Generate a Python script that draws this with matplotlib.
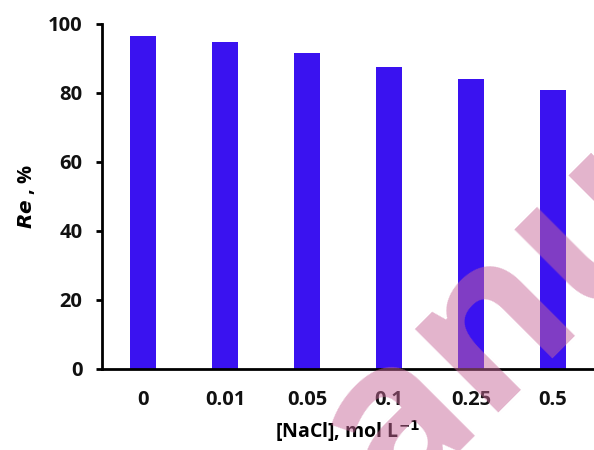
import matplotlib.pyplot as plt

# NaCl concentration (mol/L) vs removal efficiency
nacl = ['0', '0.01', '0.05', '0.1', '0.25', '0.5']
re_values = [96.5, 94.8, 91.6, 87.5, 84.1, 80.9]

plt.rcParams['font.family'] = ['Open Sans', 'DejaVu Sans']

fig = plt.figure(figsize=(5.94, 4.5), dpi=100)
ax = fig.add_axes([0.1717, 0.18, 0.8283, 0.7667])

x = range(len(nacl))
ax.bar(x, re_values, width=0.32, color='#3A12F0', zorder=2)

ax.set_xlim(-0.5, 5.5)
ax.set_ylim(0, 100)
ax.set_yticks([0, 20, 40, 60, 80, 100])
ax.set_xticks(list(x))
ax.set_xticklabels(nacl)

for s in ['top', 'right']:
    ax.spines[s].set_visible(False)
ax.spines['left'].set_linewidth(2)
ax.spines['bottom'].set_linewidth(2)

ax.tick_params(axis='y', direction='out', length=4, width=2, pad=10, labelsize=14.5)
ax.tick_params(axis='x', length=0, pad=15, labelsize=14.5)
for lab in ax.get_xticklabels() + ax.get_yticklabels():
    lab.set_fontweight('bold')
    lab.set_color('#111111')

ax.set_xlabel('[NaCl], mol L$^{\\mathbf{-1}}$', fontsize=14, fontweight='bold', labelpad=6)
ax.set_ylabel('$\\boldsymbol{Re}$ , %', fontsize=14.5, fontweight='bold', labelpad=8)

# watermark
fig.text(0.84, 0.28, 'anu', fontsize=155, fontweight='bold', color='#C86999',
         alpha=0.5, rotation=45, ha='center', va='center', zorder=10)

fig.savefig('out.png', dpi=100)
